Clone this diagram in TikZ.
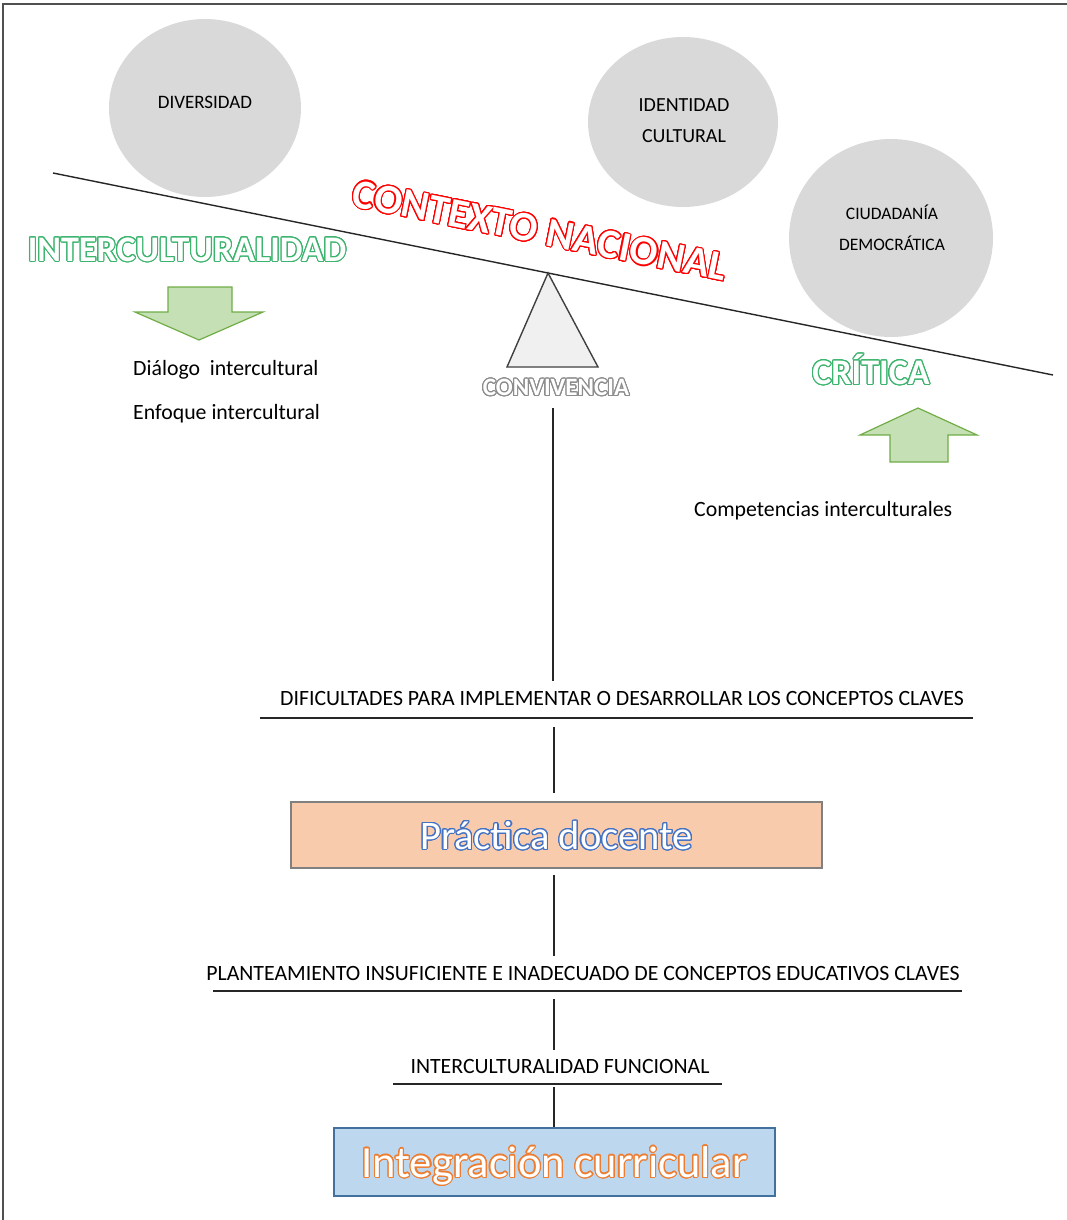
\documentclass[tikz,border=0pt]{standalone}
\usepackage{fontspec}
\setmainfont{Carlito}
\usepackage{contour}
\usetikzlibrary{shapes.geometric}
\contourlength{1.1pt}
\contournumber{24}
\definecolor{circ}{HTML}{D9D9D9}
\definecolor{arrfill}{HTML}{C5E0B4}
\definecolor{arrline}{HTML}{70AD47}
\definecolor{grn}{HTML}{3CB46E}
\definecolor{peach}{HTML}{F8CBAD}
\definecolor{lblue}{HTML}{BDD7EE}
\definecolor{bblue}{HTML}{41719C}
\definecolor{txtblue}{HTML}{4472C4}
\definecolor{orng}{HTML}{ED7D31}
\definecolor{framec}{HTML}{505050}
\tikzset{
  bubble/.style={ellipse, fill=circ, draw=none},
  bubbletext/.style={inner sep=0pt, align=center},
  plain/.style={inner sep=0pt, font=\fontsize{21.8}{24}\selectfont},
  caplabel/.style={inner sep=0pt, font=\fontsize{21.8}{24}\selectfont},
  blockarrow/.style={fill=arrfill, draw=arrline, line width=1.2pt, line join=miter},
  link/.style={draw=black!85, line width=1.3pt},
  rule/.style={draw=black!85, line width=1.5pt},
}
\begin{document}
\begin{tikzpicture}[x=1pt,y=-1pt]
\useasboundingbox (0,0) rectangle (1067,1220);
% frame
\draw[framec, line width=1.3pt] (3,1221) -- (3,4) -- (1068,4);

% bubbles
\node[bubble, minimum width=192pt, minimum height=178pt] (div) at (205,108) {};
\node[bubbletext, font=\fontsize{19}{22}\selectfont] (divt) at (205,102) {DIVERSIDAD};
\node[bubble, minimum width=190pt, minimum height=170pt] (ide) at (683,122) {};
\node[bubbletext, font=\fontsize{20}{22}\selectfont] (idet) at (684,121) {IDENTIDAD\\[9pt]CULTURAL};
\node[bubble, minimum width=204pt, minimum height=198pt] (ciu) at (891,238) {};
\node[bubbletext, font=\fontsize{17.5}{20}\selectfont] (ciut) at (892,228) {CIUDADANÍA\\[11pt]DEMOCRÁTICA};

% beam
\coordinate (bl) at (53,173);
\coordinate (br) at (1053,375);
\draw[black!85, line width=1.4pt] (bl) -- (br);

% fulcrum
\coordinate (apex) at (548,273);
\coordinate (tl) at (507,367);
\coordinate (tr) at (598,367);
\draw[fill=black!6, draw=black!75, line width=1.4pt, line join=miter] (apex) -- (tl) -- (tr) -- cycle;

% headings
\node[inner sep=0pt, rotate=-11.4, font=\bfseries\fontsize{41.5}{45}\selectfont] (ctx) at (540,231)
  {\textcolor{white}{\contour{red}{CONTEXTO NACIONAL}}};
\node[inner sep=0pt, font=\bfseries\fontsize{36}{40}\selectfont] (inter) at (187,250)
  {\textcolor{white}{\contour{grn}{INTERCULTURALIDAD}}};
\node[inner sep=0pt, font=\bfseries\fontsize{36}{40}\selectfont] (crit) at (871,370)
  {\textcolor{white}{\contour{grn}{CRÍTICA}}};
\node[inner sep=0pt, font=\bfseries\fontsize{25}{28}\selectfont] (conv) at (556,388)
  {\textcolor{white}{\contour{black!45}{CONVIVENCIA}}};

% arrows
\draw[blockarrow] (168,287) -- (232,287) -- (232,312) -- (263,312) -- (199,340) -- (135,312) -- (168,312) -- cycle;
\draw[blockarrow] (890,462) -- (948,462) -- (948,435) -- (977,435) -- (918,408) -- (860,435) -- (890,435) -- cycle;

% small texts
\node[plain, anchor=west] (dia) at (133,370) {Diálogo\ \ intercultural};
\node[plain, anchor=west] (enf) at (133,414) {Enfoque intercultural};
\node[plain, anchor=west] (comp) at (694,511) {Competencias interculturales};

% chain
\node[caplabel] (dif) at (622,698) {DIFICULTADES PARA IMPLEMENTAR O DESARROLLAR LOS CONCEPTOS CLAVES};
\draw[rule] (260,718) -- (973,718);
\coordinate (c1) at (553,408);
\coordinate (c2) at (553,681);
\draw[link] (c1) -- (c2);

\node[draw=black!50, fill=peach, line width=1.3pt, minimum width=531pt, minimum height=66pt, inner sep=0pt] (pd) at (556.5,835) {};
\node[inner sep=0pt, font=\fontsize{40.5}{44}\selectfont] (pdt) at (556.5,836)
  {\textcolor{white}{\contour{txtblue}{Práctica docente}}};
\coordinate (c3) at (554,727);
\coordinate (c4) at (554,793);
\draw[link] (c3) -- (c4);

\node[caplabel] (plan) at (583,973) {PLANTEAMIENTO INSUFICIENTE E INADECUADO DE CONCEPTOS EDUCATIVOS CLAVES};
\draw[rule] (213,991) -- (962,991);
\coordinate (c5) at (554,875);
\coordinate (c6) at (554,956);
\draw[link] (c5) -- (c6);

\node[caplabel] (func) at (560,1066) {INTERCULTURALIDAD FUNCIONAL};
\draw[rule] (393,1084) -- (722,1084);
\coordinate (c7) at (554,999);
\coordinate (c8) at (554,1050);
\draw[link] (c7) -- (c8);

\node[draw=bblue, fill=lblue, line width=1.5pt, minimum width=441pt, minimum height=68pt, inner sep=0pt] (ic) at (554.5,1162) {};
\node[inner sep=0pt, font=\fontsize{44.5}{48}\selectfont] (ict) at (554.5,1166)
  {\textcolor{white}{\contour{orng}{Integración curricular}}};
\coordinate (c9) at (554,1087);
\coordinate (c10) at (554,1127);
\draw[link] (c9) -- (c10);
\end{tikzpicture}
\end{document}
